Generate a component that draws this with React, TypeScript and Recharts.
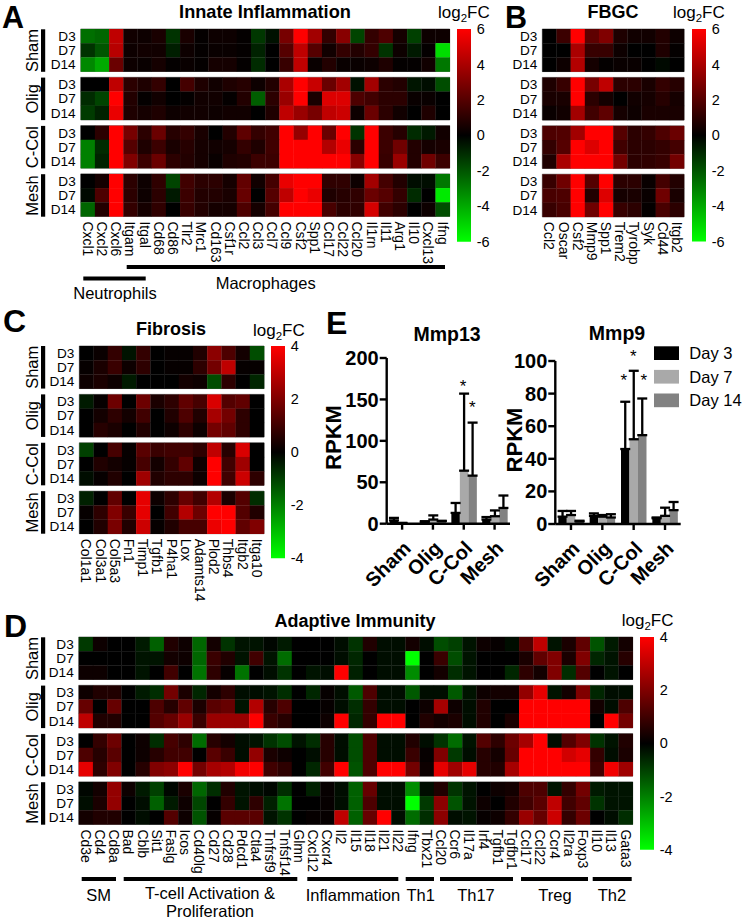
import React from "react";
import {
  BarChart, Bar, XAxis, YAxis, ErrorBar, ScatterChart, Scatter, ReferenceArea,
} from "recharts";

const FONT = '"Liberation Sans", Arial, sans-serif';

const groups = ["Sham", "Olig", "C-Col", "Mesh"];
const days = ["D3", "D7", "D14"];

const innateGenes = ["Cxcl1","Cxcl2","Cxcl6","Itgam","Itgal","Cd68","Cd86","Tlr2","Mrc1","Cd163","Csf1r","Ccl2","Ccl3","Ccl7","Ccl9","Csf2","Spp1","Ccl17","Ccl22","Ccl20","Il1rn","Il11","Arg1","Il10","Cxcl13","Ifng"];
const innateValues = [
  [-2.6,-2.4,4.5,0.4,0.3,0.6,-1.2,0.6,0.1,0.3,0.3,0.1,-1.3,-0.4,2.8,6,3.8,1.2,3.2,-1.6,1.2,1.8,0.5,-1.5,0.3,0.3],
  [-1.2,-2,4.3,0.3,0.4,0.4,-0.7,0.3,0.1,0.2,0.2,0.1,-0.8,0,2,4.5,2,0.4,1.2,0.8,1.2,-1.2,0.3,-0.6,0.1,-5.2],
  [-3.2,-4,2.5,0.3,0.2,0.5,0.1,0.2,0.1,0.5,0.5,0.1,-1,0,1.3,4.5,0.2,0.8,0.2,0.2,0.3,0.7,0.1,0.1,0.4,-2.8],
  [0,0,4.5,1,0.7,1.2,0,1.6,0.7,0.4,0.7,0.9,0.3,0.8,4,6,4.7,2.5,3.8,-0.4,3.8,1,0.8,-0.5,-0.3,-1.8],
  [-1,-1.6,6,0.8,0.1,0.4,0,0.1,0.4,0.4,0.1,0.8,-2.2,1,3.6,6,0.6,5.2,5.2,1.8,1.5,1,1,0.2,0.2,0],
  [-1.4,-0.8,5.5,0.7,0.5,0.7,0.3,0.4,0.4,0.3,0.4,0.4,0,0.7,4.5,3.6,2.8,4.5,4.8,0.3,2.5,1,0.4,0,0.7,0],
  [0,1,6,2.8,1,2.5,0.9,1.2,0.6,0,0.8,2.2,1.2,1.5,6,3.5,6,2.5,6,-1.2,6,1.4,0.9,-1,-0.6,0.4],
  [-3,-1,6,2,0.7,1.4,0.6,0.9,0.5,0.4,0.5,1.2,0.7,1.5,6,6,6,4.2,5.5,1,6,1.4,2.6,0.8,0.5,0.6],
  [-3,-0.8,6,3,1.4,2.5,1,0.8,0.5,0.2,0.7,0.8,1.4,1.4,6,6,6,6,6,3.2,6,1.3,3.6,0.8,2.6,1.4],
  [0,0.5,6,1,0.3,1.1,-1.6,1.5,1,1,0.5,2.3,0.4,1.6,5.5,6,6,1.1,1.1,0.3,3.8,1.6,0.8,-0.3,-0.3,-2.8],
  [-0.2,1.8,6,1,0.3,1,-0.6,1.4,0.8,0.8,0.6,2.4,0,2,4.5,6,5.5,0.7,0.9,1.1,2.5,2,1.2,-1,0,-5.5],
  [-2.4,0.8,6,1.2,0.5,1.1,0,1.3,0.8,0.5,0.5,1.8,0.5,1.6,6,6,6,1.7,1,1.1,5,1.5,1,0,0.3,-1.8],
];

const fbgcGenes = ["Ccl2","Oscar","Csf2","Mmp9","Spp1","Trem2","Tyrobp","Syk","Cd44","Itgb2"];
const fbgcValues = [
  [0,1.4,6,2.2,3,0.7,0.4,0.4,0.8,0.3],
  [0,0,4,1.3,1.3,0.3,0,0,0.7,0.1],
  [0,0.3,4.2,0.5,0.1,0.2,0.2,0,-0.2,0],
  [0.7,1.3,6,2.8,4.5,1,1,0.6,1.2,0.9],
  [0.6,0.6,6,1,0.5,0,0.4,0.5,0.9,0.5],
  [0.2,0.4,3.8,1.5,2.2,0.5,0.3,0.6,0.6,0.6],
  [1.8,1.9,3.8,6,6,2,1,1.2,1.8,2.5],
  [1.2,2,6,5.2,6,1.5,1,1,1.2,1.6],
  [0.7,4,6,6,6,2.7,1,1.1,1.3,2.7],
  [1.3,2.6,6,2,6,1,1,0.2,1.6,0.8],
  [1.7,1.8,6,0.8,5.2,0.5,0.6,0.2,2.6,0.6],
  [1.3,1.7,6,2.6,6,1.3,1,0.1,1.7,1],
];

const fibrosisGenes = ["Col1a1","Col3a1","Col5a3","Fn1","Timp1","Tgfb1","P4ha1","Lox","Adamts14","Plod2","Thbs4","Itgb2","Itga10"];
const fibrosisValues = [
  [0,0.15,0.8,-0.3,0.8,0,0.1,0.1,0.5,2.2,1.2,0.3,-1.2],
  [0.1,0.4,0.9,0.2,0.7,0,0.1,0.1,0.7,1.8,3,0.1,0.1],
  [0.2,0.4,0.2,-0.4,0,0,0,0.3,0.2,-1.2,0.7,0,-0.6],
  [-0.4,0.1,1.7,0,1.7,0.4,0.7,1.5,1.1,3.4,1.3,1.5,0],
  [0,0.3,0.7,0.3,1,0,0.5,1.2,0.5,2.6,1.8,0.7,0],
  [0,0.6,0.4,0,0.5,0,0.2,0.7,0.2,1.8,1.5,0.7,0],
  [-1,0,1.1,0.1,1.4,0.9,1,1,0.7,3,0.6,3.4,0],
  [0,0.5,0.3,0.1,1.1,0.3,0.8,1.5,0.2,4,1,2.5,0],
  [-0.2,0.1,0.5,0,2.5,0.5,0.7,0.7,0.2,4,1,3.2,0.7],
  [-0.5,0,1.5,0,3.6,0.2,0.7,1.6,1,2.8,0.4,1.3,-0.7],
  [0.1,0.7,2,0.9,3.6,0,1,2.8,1.7,4,4,1.3,0.5],
  [0,0.5,1.9,0.5,3.2,0.1,0.5,1.1,1.1,3.7,4,1.5,2],
];

const adaptiveGenes = ["Cd3e","Cd4","Cd8a","Bad","Cblb","Sit1","Faslg","Icos","Cd40lg","Cd27","Cd28","Pdcd1","Ctla4","Tnfrsf9","Tnfsf14","Glmn","Cxcl12","Cxcr4","Il2","Il15","Il18","Il21","Il22","Ifng","Tbx21","Ccl20","Ccr6","Il17a","Irf4","Tgfb1","Tgfbr1","Ccl17","Ccl22","Ccr4","Il2ra","Foxp3","Il10","Il13","Gata3"];
const adaptiveValues = [
  [-0.9,0.2,0,0,-0.4,-1.5,0.5,0.2,-1.6,0.3,-0.8,-0.3,-0.3,-0.1,-0.4,0,0,0,-0.2,-0.8,0.5,-0.2,-0.2,0.3,-0.2,-1.2,-1,-0.3,0.2,0.1,-0.2,1.2,3,-0.3,0.4,1.5,-1.3,-0.4,0.3],
  [0,0,0,0,-0.3,-0.3,0.3,0.2,-1.6,0.9,0.5,-0.3,1,-0.3,-1.7,0,0,0,-0.2,-0.6,0,-0.2,-0.2,-4,0,0.9,-1.2,-0.3,0,0,0,0.4,1.5,2,0.4,2,-0.6,-0.3,0.6],
  [0.2,0.2,0,0,-0.3,0,1,0,-1.8,0.7,0.1,-1.8,0,-0.2,-0.8,0,-0.3,-0.2,4,-0.5,0,-0.2,-0.2,-2.2,0,0.3,-0.7,-0.3,0,0,-0.6,0.7,0.3,2,-0.7,1.3,0,-0.3,0],
  [0.2,0.5,0.5,0,-0.4,-0.7,1.8,0.4,-0.6,0.3,0.7,-0.2,-0.2,-0.3,-0.7,0,-0.6,0.1,-0.2,-1.4,1.2,-0.2,-0.2,-1.4,-0.2,-0.2,-1.4,-0.3,0.2,0.3,0.3,2.3,3.6,-0.3,0.3,2,-0.6,-0.2,-0.2],
  [1.6,0,1.6,0,0,1.2,0.6,1.5,0.4,1.4,1.6,-0.3,2.8,0.6,1.2,0,0,0.1,-0.2,-0.7,0.8,-0.2,-0.2,0,0.2,2.6,0.2,-0.2,0.5,0,0,4,4,4,4,4,0.3,-0.2,1.2],
  [3,0.5,0.5,0,0,1.3,1.6,2.4,0.9,2.4,2.4,2.4,4,0.9,0.6,0,0,0.2,4,-0.6,0.8,4,4,0,0.5,0.3,0.4,-0.2,0.5,0,0.4,4,4,4,4,4,0,4,1.8],
  [0,0.8,1.7,0,0.2,-0.7,1.1,0.7,-1.7,0.6,0.3,-0.2,-0.3,-0.8,-1.2,-0.3,-0.7,0.6,-0.2,-1.2,1.2,-0.2,-0.2,0.5,-0.2,-0.8,-1.7,-0.3,1.3,0.7,1.7,2.6,4,-0.2,1.3,2,-0.8,-0.3,0.5],
  [1.2,0.6,1.4,0,0.2,0.6,1,1,0,1.4,0.9,-0.2,2.3,0.4,0.2,0,-0.2,0.6,-0.2,-1.2,1.2,-0.2,-0.2,0.9,0.1,2,-0.9,-0.2,0.6,0.3,1.6,4,4,4,3.3,3.6,0.8,-0.2,0.4],
  [3.6,0.7,2,0,0.6,2,2.2,4,1.8,2.6,2.8,3.8,4,1,0.7,0,-0.6,1,4,-1.3,1.2,4,4,1.8,0.2,3.6,2.5,3.6,0.6,0.5,2.6,4,4,4,4,4,1,3.8,2.5],
  [-0.1,0.3,2.3,0.2,-0.4,-1,-0.1,0.4,-1.6,-0.7,0.5,-0.3,-0.2,-0.1,-0.7,0,-0.5,0.1,-0.2,-1.5,1.6,-0.2,-0.2,-2.2,-0.2,0.5,-0.8,-0.3,0,0.2,0.3,1.2,1.2,-0.3,0.8,1.8,-0.4,-0.3,-0.3],
  [-0.2,0.4,2.3,0,-0.2,-1.5,-0.4,0.2,-1.1,0,0.8,-0.3,0.7,-0.5,-1.8,0,0,0.1,-0.2,-1.5,1.2,-0.2,-0.2,-4,-0.9,2.2,-1.3,-0.3,0.2,0,0.5,1,1.4,3,1,1.5,-0.8,-0.3,-0.3],
  [0.3,0.5,0.5,0,-0.2,0,1.3,0.2,-1.3,0.1,1.4,1.4,1.4,-0.3,-0.8,0,0.1,0.1,3,-1.5,1.6,4,-0.2,-1.7,-0.7,2.2,-0.2,-0.3,0.1,0.2,0.8,2.4,1.6,3.2,0.8,1.7,0,-0.2,-0.7],
];

const barGroups = ["Sham", "Olig", "C-Col", "Mesh"];
const mmp13Day3 = [4, 2, 13, 5];
const mmp13Day7 = [0.5, 5, 64, 9];
const mmp13Day14 = [0, 3, 58, 19];
const mmp13Err3 = [3, 1, 12, 3];
const mmp13Err7 = [0.5, 5, 93, 7];
const mmp13Err14 = [0, 0.5, 64, 15];
const mmp9Day3 = [4.5, 5, 46, 3.5];
const mmp9Day7 = [5.5, 4.5, 52, 5];
const mmp9Day14 = [1.5, 4, 54.5, 8.5];
const mmp9Err3 = [3.5, 1.5, 29, 0.5];
const mmp9Err7 = [2.5, 1, 42, 5];
const mmp9Err14 = [0.5, 2, 22.5, 5];

const legendItems = ["Day 3", "Day 7", "Day 14"];
const legendColors = ["#000000", "#a9a9a9", "#828282"];

const GAP = 0.41;
const total = 12 + 3 * GAP;
const rowCenters: number[] = [];
const rowLabels: string[] = [];
groups.forEach((_, g) => days.forEach((d, r) => {
  rowCenters.push(g * (3 + GAP) + r + 0.5);
  rowLabels.push(d);
}));

function heatColor(v: number, max: number) {
  const c = Math.round(255 * Math.min(Math.abs(v) / max, 1));
  return v >= 0 ? `rgb(${c},0,0)` : `rgb(0,${c},0)`;
}

function GeneTick(props: any) {
  const { x, y, payload, genes } = props;
  const name = genes[Math.floor(payload.value)];
  return (
    <text x={x} y={y} transform={`rotate(90 ${x} ${y})`} fontFamily={FONT} fontSize={14} fill="#000" textAnchor="start" dominantBaseline="central">
      {name}
    </text>
  );
}

function Heat({ left, chartLeft, right, top, bottom, genes, values, max, xTop }: any) {
  const pad = 4;
  const plotW = right - left;
  const plotH = bottom - top;
  const w = plotW / genes.length;
  const h = plotH / total;
  const points: any[] = [];
  values.forEach((row: number[], r: number) => row.forEach((v, k) => {
    points.push({ x: k + 0.5, y: rowCenters[r], v });
  }));
  const ticks = genes.map((_: string, i: number) => i + 0.5);
  const cell = (p: any) => (
    <rect x={p.cx - w / 2} y={p.cy - h / 2} width={w + 0.3} height={h + 0.3} fill={heatColor(p.payload.v, max)} />
  );
  return (
    <div style={{ position: "absolute", left: chartLeft, top: top - pad }}>
      <ScatterChart
        width={right - chartLeft + pad}
        height={plotH + pad + 90}
        margin={{ top: pad, right: pad, bottom: 0, left: 0 }}
      >
        <XAxis
          type="number" dataKey="x" domain={[0, genes.length]} ticks={ticks} interval={0}
          height={90} axisLine={false} tickLine={false} tickSize={0} tickMargin={xTop}
          tick={<GeneTick genes={genes} />}
        />
        <YAxis
          type="number" dataKey="y" domain={[0, total]} reversed ticks={rowCenters} interval={0}
          width={left - chartLeft} axisLine={false} tickLine={false} tickSize={0} tickMargin={5}
          tick={{ fontSize: 13.6, fill: "#000", fontFamily: FONT }}
          tickFormatter={(val: number) => rowLabels[rowCenters.findIndex((c) => Math.abs(c - val) < 0.01)]}
        />
        <Scatter data={points} isAnimationActive={false} shape={cell} />
        {groups.map((g, i) => (
          <ReferenceArea
            key={g} x1={0} x2={genes.length}
            y1={i * (3 + GAP)} y2={i * (3 + GAP) + 3}
            fill="none" stroke="#6a6a6a" strokeWidth={1} strokeOpacity={0.75}
          />
        ))}
      </ScatterChart>
    </div>
  );
}

function ColorBar({ id, left, top, bottom, max, ticks }: any) {
  const pad = 10;
  const barW = 14.3;
  const data = [{ c: "scale", range: [-max, max] }];
  return (
    <div style={{ position: "absolute", left, top: top - pad }}>
      <BarChart
        width={barW + 26} height={bottom - top + 2 * pad} data={data}
        margin={{ top: pad, bottom: pad, left: 0, right: 0 }} barCategoryGap={0}
      >
        <defs>
          <linearGradient id={id} x1="0" y1="0" x2="0" y2="1">
            <stop offset="0%" stopColor="#ff0000" />
            <stop offset="50%" stopColor="#000000" />
            <stop offset="100%" stopColor="#00ff00" />
          </linearGradient>
        </defs>
        <XAxis dataKey="c" hide />
        <YAxis
          orientation="right" type="number" domain={[-max, max]} ticks={ticks} interval={0}
          width={26} axisLine={false} tickLine={false} tickSize={0} tickMargin={5.5}
          tick={{ fontSize: 14.5, fill: "#000", fontFamily: FONT }}
        />
        <Bar dataKey="range" fill={`url(#${id})`} isAnimationActive={false} />
      </BarChart>
    </div>
  );
}

function AngledTick(props: any) {
  const { x, y, payload } = props;
  const ex = x + 5;
  const ey = y + 13;
  return (
    <text x={ex} y={ey} transform={`rotate(-45 ${ex} ${ey})`} textAnchor="end" fontFamily={FONT} fontSize={20} fontWeight="bold" fill="#000" dominantBaseline="central">
      {payload.value}
    </text>
  );
}

function Bars({ left, chartLeft, right, top, bottom, max, ticks, d3, d7, d14, e3, e7, e14 }: any) {
  const pad = 12;
  const data = barGroups.map((g, i) => ({
    g, d3: d3[i], d7: d7[i], d14: d14[i],
    e3: [0, e3[i]], e7: [0, e7[i]], e14: [0, e14[i]],
  }));
  return (
    <div style={{ position: "absolute", left: chartLeft, top: top - pad }}>
      <BarChart
        width={right - chartLeft + 6} height={bottom - top + pad + 72} data={data}
        margin={{ top: pad, right: 6, bottom: 0, left: 0 }} barGap={0} barSize={8.5}
      >
        <XAxis
          dataKey="g" height={72} interval={0} axisLine={{ stroke: "#000", strokeWidth: 2.4 }}
          tickLine={{ stroke: "#000", strokeWidth: 2.4 }} tickSize={6} tick={<AngledTick />}
        />
        <YAxis
          type="number" domain={[0, max]} ticks={ticks} interval={0} width={left - chartLeft}
          axisLine={{ stroke: "#000", strokeWidth: 2.4 }} tickLine={{ stroke: "#000", strokeWidth: 2.4 }}
          tickSize={7} tickMargin={1}
          tick={{ fontSize: 20, fontWeight: "bold", fill: "#000", fontFamily: FONT }}
        />
        <Bar dataKey="d3" fill={legendColors[0]} isAnimationActive={false}>
          <ErrorBar dataKey="e3" direction="y" width={5} stroke="#000" strokeWidth={2.3} isAnimationActive={false} />
        </Bar>
        <Bar dataKey="d7" fill={legendColors[1]} isAnimationActive={false}>
          <ErrorBar dataKey="e7" direction="y" width={5} stroke="#000" strokeWidth={2.3} isAnimationActive={false} />
        </Bar>
        <Bar dataKey="d14" fill={legendColors[2]} isAnimationActive={false}>
          <ErrorBar dataKey="e14" direction="y" width={5} stroke="#000" strokeWidth={2.3} isAnimationActive={false} />
        </Bar>
      </BarChart>
    </div>
  );
}

const T = ({ x, y, size = 16.5, bold, anchor = "middle", children }: any) => (
  <text x={x} y={y} fontSize={size} fontWeight={bold ? "bold" : "normal"} textAnchor={anchor} fontFamily={FONT} fill="#000">
    {children}
  </text>
);

const Log2 = ({ x, y }: any) => (
  <text x={x} y={y} fontSize={17} fontFamily={FONT} fill="#000">
    log<tspan fontSize={11.5} dy={4}>2</tspan><tspan dy={-4}>FC</tspan>
  </text>
);

function GroupLabels({ top, bottom }: any) {
  const h = (bottom - top) / total;
  return (
    <>
      {groups.map((g, i) => {
        const y0 = top + i * (3 + GAP) * h;
        const cy = y0 + 1.5 * h;
        return (
          <g key={g}>
            <rect x={41} y={y0} width={4.2} height={3 * h} fill="#000" />
            <text x={38} y={cy} transform={`rotate(-90 38 ${cy})`} textAnchor="middle" fontSize={16.5} fontFamily={FONT} fill="#000">{g}</text>
          </g>
        );
      })}
    </>
  );
}

const Hbar = ({ x1, x2, y }: any) => <rect x={x1} y={y - 2} width={x2 - x1} height={4} fill="#000" />;
const Star = ({ x, y }: any) => <text x={x} y={y + 9} textAnchor="middle" fontSize={17} fontFamily={FONT} fill="#000">*</text>;

const sixTicks = [6, 4, 2, 0, -2, -4, -6];
const fourTicks = [4, 2, 0, -2, -4];

export default function App() {
  return (
    <div style={{ position: "absolute", left: 0, top: 0, width: 745, height: 920, background: "#fff", overflow: "hidden" }}>
      <Heat left={80.7} chartLeft={46} right={449.7} top={29.3} bottom={216.7} genes={innateGenes} values={innateValues} max={6} xTop={5} />
      <ColorBar id="gradA" left={457} top={29.3} bottom={242} max={6} ticks={sixTicks} />
      <Heat left={542.3} chartLeft={505} right={684} top={28.7} bottom={216.5} genes={fbgcGenes} values={fbgcValues} max={6} xTop={5} />
      <ColorBar id="gradB" left={691.7} top={28.7} bottom={241.3} max={6} ticks={sixTicks} />
      <Heat left={79.3} chartLeft={46} right={264} top={346} bottom={533.7} genes={fibrosisGenes} values={fibrosisValues} max={4} xTop={5} />
      <ColorBar id="gradC" left={271} top={346} bottom={558.3} max={4} ticks={fourTicks} />
      <Heat left={78.7} chartLeft={46} right={632.7} top={637.3} bottom={824.7} genes={adaptiveGenes} values={adaptiveValues} max={4} xTop={5} />
      <ColorBar id="gradD" left={639.7} top={637.3} bottom={850} max={4} ticks={fourTicks} />
      <Bars left={386.7} chartLeft={330} right={510} top={358.3} bottom={524} max={200} ticks={[0, 50, 100, 150, 200]}
        d3={mmp13Day3} d7={mmp13Day7} d14={mmp13Day14} e3={mmp13Err3} e7={mmp13Err7} e14={mmp13Err14} />
      <Bars left={555.3} chartLeft={500} right={680.7} top={361} bottom={524} max={100} ticks={[0, 20, 40, 60, 80, 100]}
        d3={mmp9Day3} d7={mmp9Day7} d14={mmp9Day14} e3={mmp9Err3} e7={mmp9Err7} e14={mmp9Err14} />

      <svg width={745} height={920} style={{ position: "absolute", left: 0, top: 0, pointerEvents: "none" }}>
        <T x={2} y={27.5} size={30.5} bold anchor="start">A</T>
        <T x={505} y={27.5} size={30.5} bold anchor="start">B</T>
        <T x={3} y={332} size={32} bold anchor="start">C</T>
        <T x={326} y={334} size={32} bold anchor="start">E</T>
        <T x={4} y={637} size={32} bold anchor="start">D</T>

        <T x={265} y={18} size={18.2} bold>Innate Inflammation</T>
        <T x={613} y={18} size={18} bold>FBGC</T>
        <T x={171} y={335} size={18} bold>Fibrosis</T>
        <T x={355} y={627} size={18} bold>Adaptive Immunity</T>
        <T x={447} y={341} size={19.5} bold>Mmp13</T>
        <T x={617} y={340} size={19.5} bold>Mmp9</T>

        <Log2 x={438} y={18} />
        <Log2 x={673} y={18} />
        <Log2 x={253} y={336} />
        <Log2 x={621.7} y={626} />

        <GroupLabels top={29.3} bottom={216.7} />
        <GroupLabels top={346} bottom={533.7} />
        <GroupLabels top={637.3} bottom={824.7} />

        <Hbar x1={126.7} x2={445} y={267} />
        <Hbar x1={83.3} x2={145.7} y={278.5} />
        <T x={265.7} y={289}>Macrophages</T>
        <T x={115} y={299}>Neutrophils</T>

        <Hbar x1={81.7} x2={116} y={879} />
        <Hbar x1={123.7} x2={297.3} y={879} />
        <Hbar x1={307.3} x2={398.3} y={879} />
        <Hbar x1={405.7} x2={434} y={879} />
        <Hbar x1={440} x2={513} y={879} />
        <Hbar x1={521} x2={588} y={879} />
        <Hbar x1={592.7} x2={631.7} y={879} />
        <T x={98.7} y={901}>SM</T>
        <T x={210} y={899}>T-cell Activation &amp;</T>
        <T x={210} y={917}>Proliferation</T>
        <T x={353} y={901}>Inflammation</T>
        <T x={420.7} y={901}>Th1</T>
        <T x={476} y={901}>Th17</T>
        <T x={555} y={901}>Treg</T>
        <T x={612} y={901}>Th2</T>

        <text x={341} y={437.5} transform="rotate(-90 341 437.5)" textAnchor="middle" fontSize={22} fontWeight="bold" fontFamily={FONT} fill="#000">RPKM</text>
        <text x={521.7} y={440} transform="rotate(-90 521.7 440)" textAnchor="middle" fontSize={22} fontWeight="bold" fontFamily={FONT} fill="#000">RPKM</text>

        <Star x={463} y={383} />
        <Star x={472.3} y={404} />
        <Star x={623.7} y={376.7} />
        <Star x={633.3} y={353.3} />
        <Star x={643.7} y={376.7} />

        {legendItems.map((l, i) => (
          <g key={l}>
            <rect x={654} y={346.3 + i * 23.6} width={25} height={13.7} fill={legendColors[i]} />
            <T x={689.3} y={359 + i * 23.6} anchor="start">{l}</T>
          </g>
        ))}
      </svg>
    </div>
  );
}
